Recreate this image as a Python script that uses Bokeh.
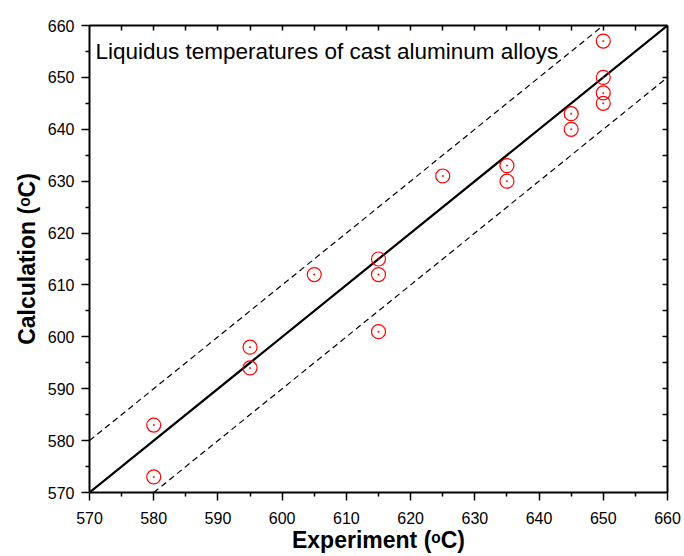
from bokeh.plotting import figure
from bokeh.models import (Range1d, LinearAxis, FixedTicker, Label)
from bokeh.embed import file_html
from bokeh.resources import INLINE

# ---- data ----
experiment = [580, 580, 595, 595, 605, 615, 615, 615, 625, 635, 635, 645, 645, 650, 650, 650, 650]
calculation = [583, 573, 598, 594, 612, 615, 612, 601, 631, 633, 630, 643, 640, 657, 650, 647, 645]
ideal_x = [570, 660]
ideal_y = [570, 660]
upper_x = [570, 650]
upper_y = [580, 660]
lower_x = [580, 660]
lower_y = [570, 650]
x_ticks = list(range(570, 661, 10))
y_ticks = list(range(570, 661, 10))
title_text = "Liquidus temperatures of cast aluminum alloys"
x_label = "Experiment (\u1d52C)"
y_label = "Calculation (\u1d52C)"

FONT = "Liberation Sans"
W, H = 684, 556
L, R, T, B = 89, 17, 25, 64

p = figure(width=W, height=H, output_backend="svg", toolbar_location=None,
           x_range=Range1d(570, 660), y_range=Range1d(570, 660),
           min_border_left=L, min_border_right=R, min_border_top=T, min_border_bottom=B,
           x_axis_location=None, y_axis_location=None)
p.grid.visible = False
p.outline_line_color = None
p.background_fill_color = "white"
p.border_fill_color = "white"

def main_axis(ax, ticks, label):
    ax.ticker = FixedTicker(ticks=ticks, minor_ticks=[v + 5 for v in ticks[:-1]])
    ax.axis_line_width = 2
    ax.axis_line_color = "black"
    ax.major_tick_line_width = 1.5
    ax.minor_tick_line_width = 1.5
    ax.major_tick_out = 8
    ax.major_tick_in = 0
    ax.minor_tick_out = 4
    ax.minor_tick_in = 0
    ax.major_label_text_font = FONT
    ax.major_label_text_font_size = "16px"
    ax.major_label_text_color = "black"
    ax.axis_label = label
    ax.axis_label_text_font = FONT
    ax.axis_label_text_font_style = "bold"
    ax.axis_label_text_font_size = "23px"
    ax.axis_label_text_color = "black"

xb = LinearAxis()
main_axis(xb, x_ticks, x_label)
xb.major_label_standoff = 11
xb.axis_label_standoff = 0
p.add_layout(xb, "below")

yl = LinearAxis()
main_axis(yl, y_ticks, y_label)
yl.major_label_standoff = 7
yl.axis_label_standoff = 5
p.add_layout(yl, "left")

def frame_axis(ax, ticks):
    ax.ticker = FixedTicker(ticks=ticks, minor_ticks=[])
    ax.axis_line_width = 2
    ax.axis_line_color = "black"
    ax.major_tick_line_width = 1.5
    ax.major_tick_out = 0
    ax.major_tick_in = 5
    ax.minor_tick_out = 0
    ax.minor_tick_in = 0
    ax.major_label_text_font_size = "0px"
    ax.major_label_standoff = 0
    ax.major_label_overrides = {t: "" for t in ticks}

xt = LinearAxis()
frame_axis(xt, list(range(575, 660, 5)))
p.add_layout(xt, "above")
yr = LinearAxis()
frame_axis(yr, list(range(575, 660, 5)))
p.add_layout(yr, "right")

# reference lines
p.line(ideal_x, ideal_y, line_color="black", line_width=2.2)
p.line(upper_x, upper_y, line_color="black", line_width=1.2, line_dash="6 4")
p.line(lower_x, lower_y, line_color="black", line_width=1.2, line_dash="6 4")

# points
p.scatter(experiment, calculation, marker="circle", size=14, fill_color=None,
          line_color="red", line_width=1.2)
p.scatter(experiment, calculation, marker="circle", size=1.5, fill_color="red",
          line_color="red", line_width=0.5)

FW = W - L - R
FH = H - T - B
def dx(px):
    return 570 + (px - L) * 90.0 / FW
def dy(py):
    return 570 + (H - B - py) * 90.0 / FH

p.add_layout(Label(x=dx(95), y=dy(51), text=title_text, text_font=FONT,
                   text_font_size="22.5px", text_color="black",
                   text_align="left", text_baseline="alphabetic"))

open("out.html", "w").write(file_html(p, INLINE))
